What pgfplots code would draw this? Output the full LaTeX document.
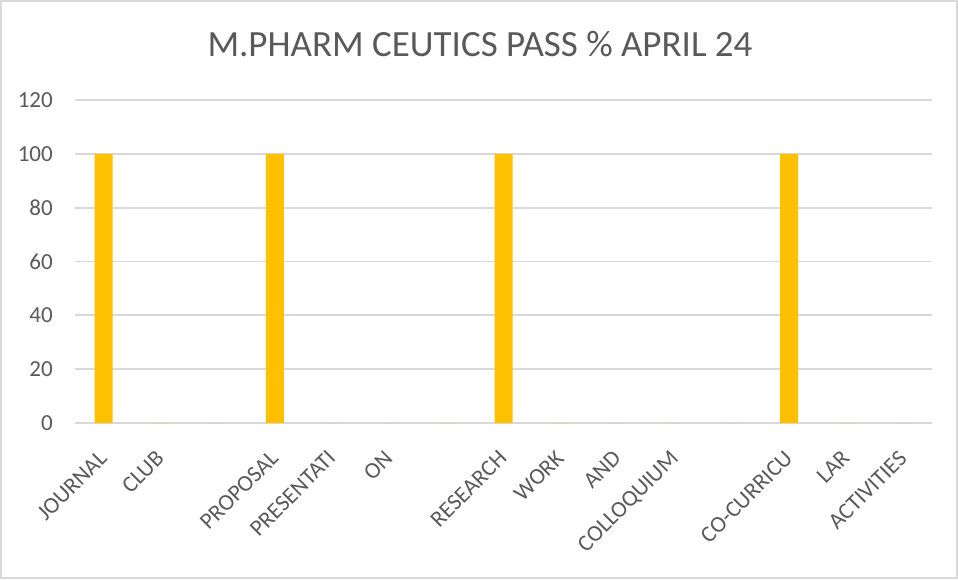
\documentclass[border=0pt]{standalone}
\usepackage{pgfplots}
\pgfplotsset{compat=1.18}
\usepackage{fontspec}
\setmainfont{Carlito}
\definecolor{txt}{HTML}{595959}
\definecolor{gridc}{HTML}{D9D9D9}
\definecolor{gold}{HTML}{FFC000}
\begin{document}
\begin{tikzpicture}[x=1pt,y=1pt]
\useasboundingbox (0,0) rectangle (958,579);
\draw[gridc, line width=1.8pt] (1,1) rectangle (957,578);
\node[anchor=base, text=txt, inner sep=0pt, font=\fontsize{37}{44}\selectfont] at (480,522) {M.PHARM CEUTICS PASS \% APRIL 24};
\begin{axis}[
  at={(75pt,156pt)}, anchor=south west,
  scale only axis, width=857pt, height=323pt,
  xmin=-0.5, xmax=14.5, ymin=0, ymax=120,
  ybar, bar width=18pt,
  xtick={0,...,14},
  xticklabels={JOURNAL,CLUB,,PROPOSAL,PRESENTATI,ON,,RESEARCH,WORK,AND,COLLOQUIUM,,CO-CURRICU,LAR,ACTIVITIES},
  ytick={0,20,...,120},
  ymajorgrids,
  grid style={gridc, line width=1.8pt},
  axis line style={draw=none},
  major tick length=0pt,
  tick style={draw=none},
  /pgf/number format/assume math mode=true,
  tick label style={text=txt, font=\fontsize{23}{27}\selectfont},
  yticklabel style={inner sep=0pt, anchor=east, xshift=-22pt},
  xticklabel style={inner sep=0pt, yshift=-26pt, xshift=-6pt, rotate=45, anchor=north east},
]
\addplot[fill=gold, draw=none] coordinates {
(0,100) (1,0) (2,0) (3,100) (4,0) (5,0) (6,0) (7,100) (8,0) (9,0) (10,0) (11,0) (12,100) (13,0) (14,0)
};
\end{axis}
\end{tikzpicture}
\end{document}
